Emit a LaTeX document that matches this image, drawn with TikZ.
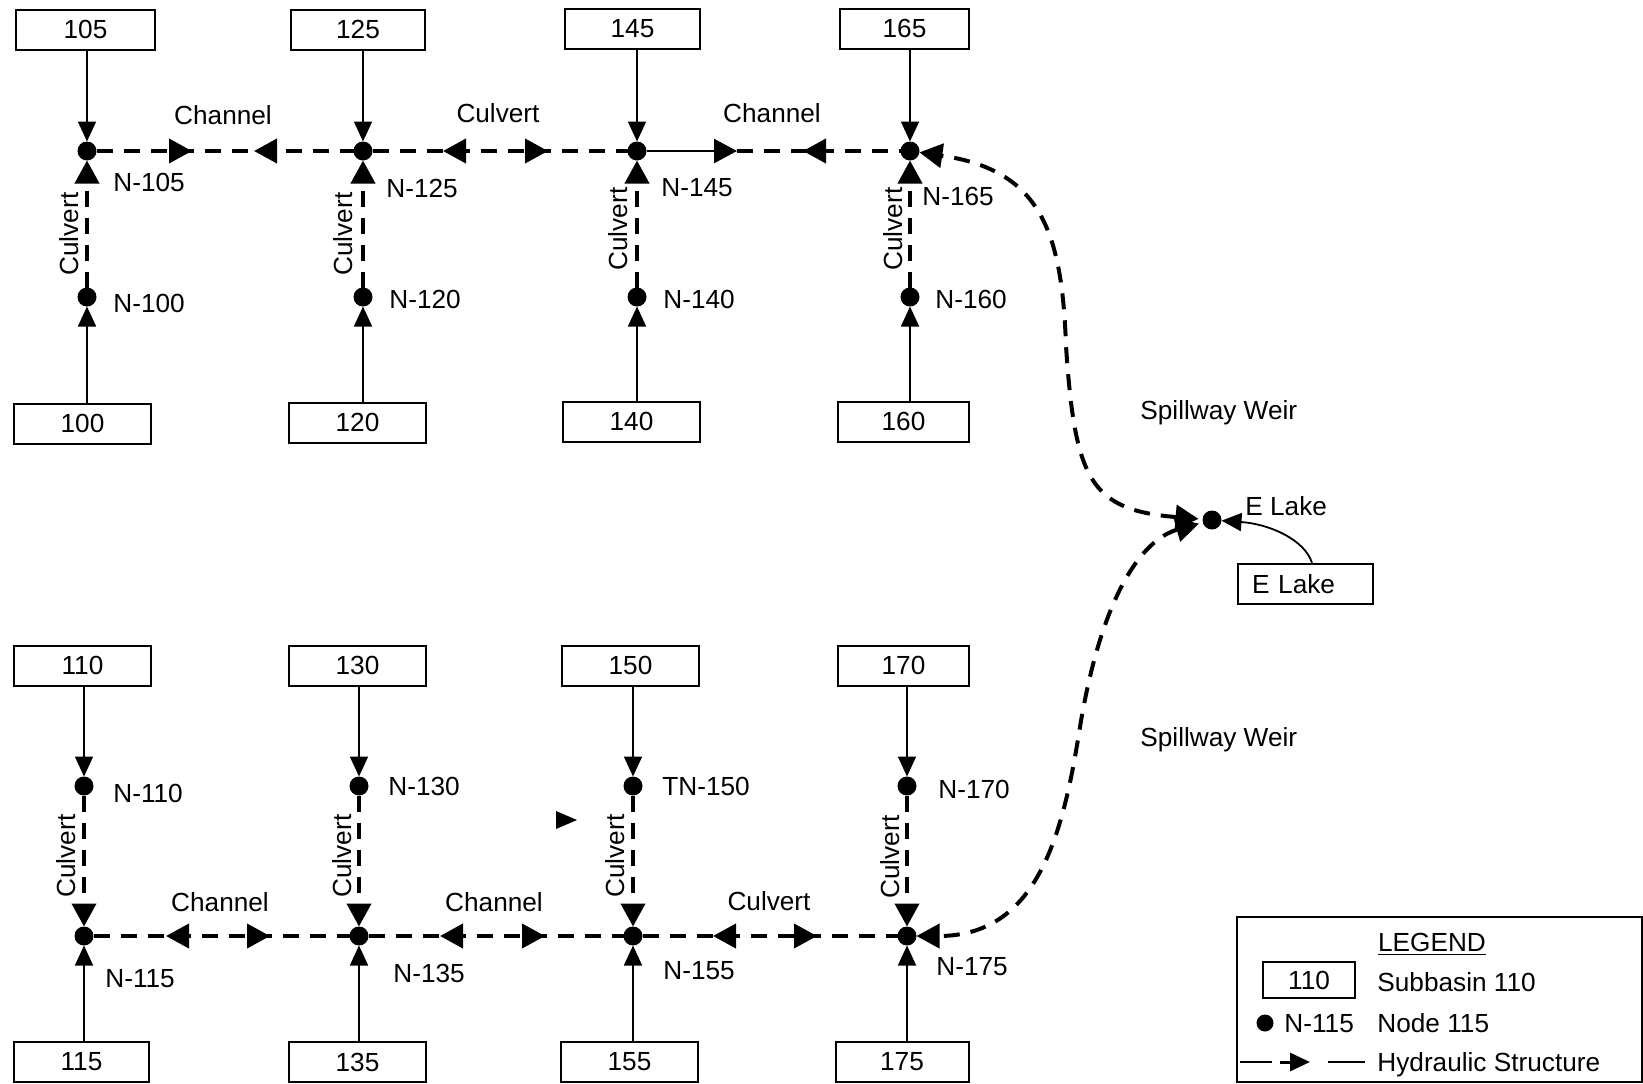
\documentclass[tikz,border=0pt]{standalone}
\usepackage{fontspec}
\setmainfont{Liberation Sans}
\usetikzlibrary{arrows.meta,decorations.markings,calc}
\tikzset{
  hydtip/.tip={Triangle[length=11.5pt,width=12pt]},
  flowtip/.tip={Triangle[length=10pt,width=9pt]},
}
\begin{document}
\begin{tikzpicture}[x=0.5pt,y=-0.5pt,
  every node/.style={font=\fontsize{13.1}{15}\selectfont},
  sub/.style={draw, line width=1pt, minimum height=20pt, inner sep=0pt, anchor=center},
  dot/.style={circle, fill, inner sep=0pt, minimum size=9.5pt, outer sep=0pt},
  lab/.style={anchor=west, inner sep=0pt, text height=9.4pt, text depth=0pt},
  clab/.style={anchor=center, inner sep=0pt, text height=9.4pt, text depth=0pt},
  vlab/.style={clab, rotate=90},
  flow/.style={line width=0.9pt, -{flowtip}},
  hyd/.style={line width=2pt, dash pattern=on 8pt off 5.5pt},
  inw/.style 2 args={postaction={decorate}, decoration={markings,
      mark=at position #1 with {\arrow{hydtip}},
      mark=at position #2 with {\arrowreversed{hydtip}}}},
  outw/.style 2 args={postaction={decorate}, decoration={markings,
      mark=at position #1 with {\arrowreversed{hydtip}},
      mark=at position #2 with {\arrow{hydtip}}}},
  revonly/.style={postaction={decorate}, decoration={markings,
      mark=at position #1 with {\arrowreversed{hydtip}}}},
]
\useasboundingbox (0,0) rectangle (1643,1083);

% ---------- subbasin boxes ----------
\node[sub, minimum width=69.5pt] (b105) at (85.5,29.5) {105};
\node[sub, minimum width=67pt]   (b125) at (358,29.5) {125};
\node[sub, minimum width=67.5pt] (b145) at (632.5,28.5) {145};
\node[sub, minimum width=64.5pt] (b165) at (904.5,28.5) {165};

\node[sub, minimum width=68.5pt] (b100) at (82.5,423.5) {100};
\node[sub, minimum width=68.5pt] (b120) at (357.5,422.5) {120};
\node[sub, minimum width=68.5pt] (b140) at (631.5,421.5) {140};
\node[sub, minimum width=65.5pt] (b160) at (903.5,421.5) {160};

\node[sub, minimum width=68.5pt] (b110) at (82.5,665.5) {110};
\node[sub, minimum width=68.5pt] (b130) at (357.5,665.5) {130};
\node[sub, minimum width=68.5pt] (b150) at (630.5,665.5) {150};
\node[sub, minimum width=65.5pt] (b170) at (903.5,665.5) {170};

\node[sub, minimum width=67.5pt] (b115) at (81.5,1062) {115};
\node[sub, minimum width=68.5pt] (b135) at (357.5,1062) {135};
\node[sub, minimum width=68.5pt] (b155) at (629.5,1062) {155};
\node[sub, minimum width=66.5pt] (b175) at (902,1062) {175};

\node[sub, align=left, text width=53.5pt, inner xsep=7pt, minimum height=20pt] (elbox) at (1305.5,584) {E Lake};

% ---------- junction nodes ----------
\node[dot] (n105) at (87,151) {};
\node[dot] (n125) at (363,151) {};
\node[dot] (n145) at (637,151) {};
\node[dot] (n165) at (910,151) {};
\node[dot] (n100) at (87,297) {};
\node[dot] (n120) at (363,297) {};
\node[dot] (n140) at (637,297) {};
\node[dot] (n160) at (910,297) {};

\node[dot] (n110) at (84,786) {};
\node[dot] (n130) at (359,786) {};
\node[dot] (n150) at (633,786) {};
\node[dot] (n170) at (907,786) {};
\node[dot] (n115) at (84,936) {};
\node[dot] (n135) at (359,936) {};
\node[dot] (n155) at (633,936) {};
\node[dot] (n175) at (907,936) {};

\node[dot] (elake) at (1212,520) {};

% ---------- node labels ----------
\node[lab] at (113,182) {N-105};
\node[lab] at (113,303) {N-100};
\node[lab] at (386,188) {N-125};
\node[lab] at (389,299) {N-120};
\node[lab] at (661,187) {N-145};
\node[lab] at (663,299) {N-140};
\node[lab] at (922,196) {N-165};
\node[lab] at (935,299) {N-160};

\node[lab] at (113,793) {N-110};
\node[lab] at (105,978) {N-115};
\node[lab] at (388,786) {N-130};
\node[lab] at (393,973) {N-135};
\node[lab] at (662,786) {TN-150};
\node[lab] at (663,970) {N-155};
\node[lab] at (938,789) {N-170};
\node[lab] at (936,966) {N-175};

\node[lab] at (1245,506) {E Lake};

% ---------- structure labels ----------
\node[clab] at (223,115) {Channel};
\node[clab] at (498,113) {Culvert};
\node[clab] at (772,113) {Channel};
\node[vlab] at (69,234) {Culvert};
\node[vlab] at (343,234) {Culvert};
\node[vlab] at (618,229) {Culvert};
\node[vlab] at (893,229) {Culvert};

\node[clab] at (220,902) {Channel};
\node[clab] at (494,902) {Channel};
\node[clab] at (769,901) {Culvert};
\node[vlab] at (66,856) {Culvert};
\node[vlab] at (342,856) {Culvert};
\node[vlab] at (615,856) {Culvert};
\node[vlab] at (890,857) {Culvert};

\node[lab] at (1140,410) {Spillway Weir};
\node[lab] at (1140,737) {Spillway Weir};

% ---------- subbasin inflows ----------
\foreach \b/\n in {b105/n105,b125/n125,b145/n145,b165/n165,b110/n110,b130/n130,b150/n150,b170/n170}
  \draw[flow] (\b.south -| \n) -- (\n);
\foreach \b/\n in {b100/n100,b120/n120,b140/n140,b160/n160,b115/n115,b135/n135,b155/n155,b175/n175}
  \draw[flow] (\b.north -| \n) -- (\n);
\draw[flow] ([xshift=3.25pt]elbox.north) .. controls (1305,540) and (1270,524) .. (elake);

% ---------- hydraulic structures ----------
% top row
\draw[hyd, inw={47.75pt}{78.75pt}] (n105) -- (n125);
\draw[hyd, outw={35.25pt}{87.75pt}] (n125) -- (n145);
\coordinate (m145) at (737,151);
\draw[line width=1.2pt, -{hydtip}] (n145) -- (m145);
\draw[hyd, revonly={33pt}] (m145) -- (n165);
% top verticals
\foreach \a/\b in {n100/n105,n120/n125,n140/n145,n160/n165}
  \draw[hyd, -{hydtip}] (\a) -- (\b);
% bottom row
\draw[hyd, outw={36.25pt}{88.25pt}] (n115) -- (n135);
\draw[hyd, outw={35.75pt}{88.25pt}] (n135) -- (n155);
\draw[hyd, outw={35.25pt}{87.25pt}] (n155) -- (n175);
% bottom verticals
\foreach \a/\b in {n110/n115,n130/n135,n150/n155,n170/n175}
  \draw[hyd, -{hydtip}] (\a) -- (\b);
% spillway weirs
\draw[hyd, {hydtip}-{hydtip}, shorten <=2pt] (elake) .. controls (1090,510) and (1075,480) .. (1066,346)
   .. controls (1062,230) and (1040,170) .. (n165);
\draw[hyd, {hydtip}-{hydtip}, shorten <=2pt] (elake) .. controls (1140,540) and (1100,600) .. (1079,733)
   .. controls (1062,840) and (1035,936) .. (n175);

% stray mark
\fill (556,811) -- (577,820) -- (556,829) -- cycle;

% ---------- legend ----------
\draw[line width=1pt] (1237,917) rectangle (1642,1082);
\node[clab] at (1432,942) {\underline{LEGEND}};
\node[sub, minimum width=46pt, minimum height=18pt] (lgbox) at (1309,980) {110};
\node[lab] at (1377,982) {Subbasin 110};
\node[dot, minimum size=8.5pt] (lgdot) at (1265,1023) {};
\node[lab] at (1284,1023) {N-115};
\node[lab] at (1377,1023) {Node 115};
\coordinate (lg1) at (1240,1062);
\coordinate (lg2) at (1272,1062);
\coordinate (lg3) at (1280,1062);
\coordinate (lg4) at (1310,1062);
\coordinate (lg5) at (1328,1062);
\coordinate (lg6) at (1365,1062);
\draw[line width=1pt] (lg1) -- (lg2);
\draw[line width=1.5pt, -{flowtip}] (lg3) -- (lg4);
\draw[line width=1pt] (lg5) -- (lg6);
\node[lab] at (1377,1062) {Hydraulic Structure};
\end{tikzpicture}
\end{document}
